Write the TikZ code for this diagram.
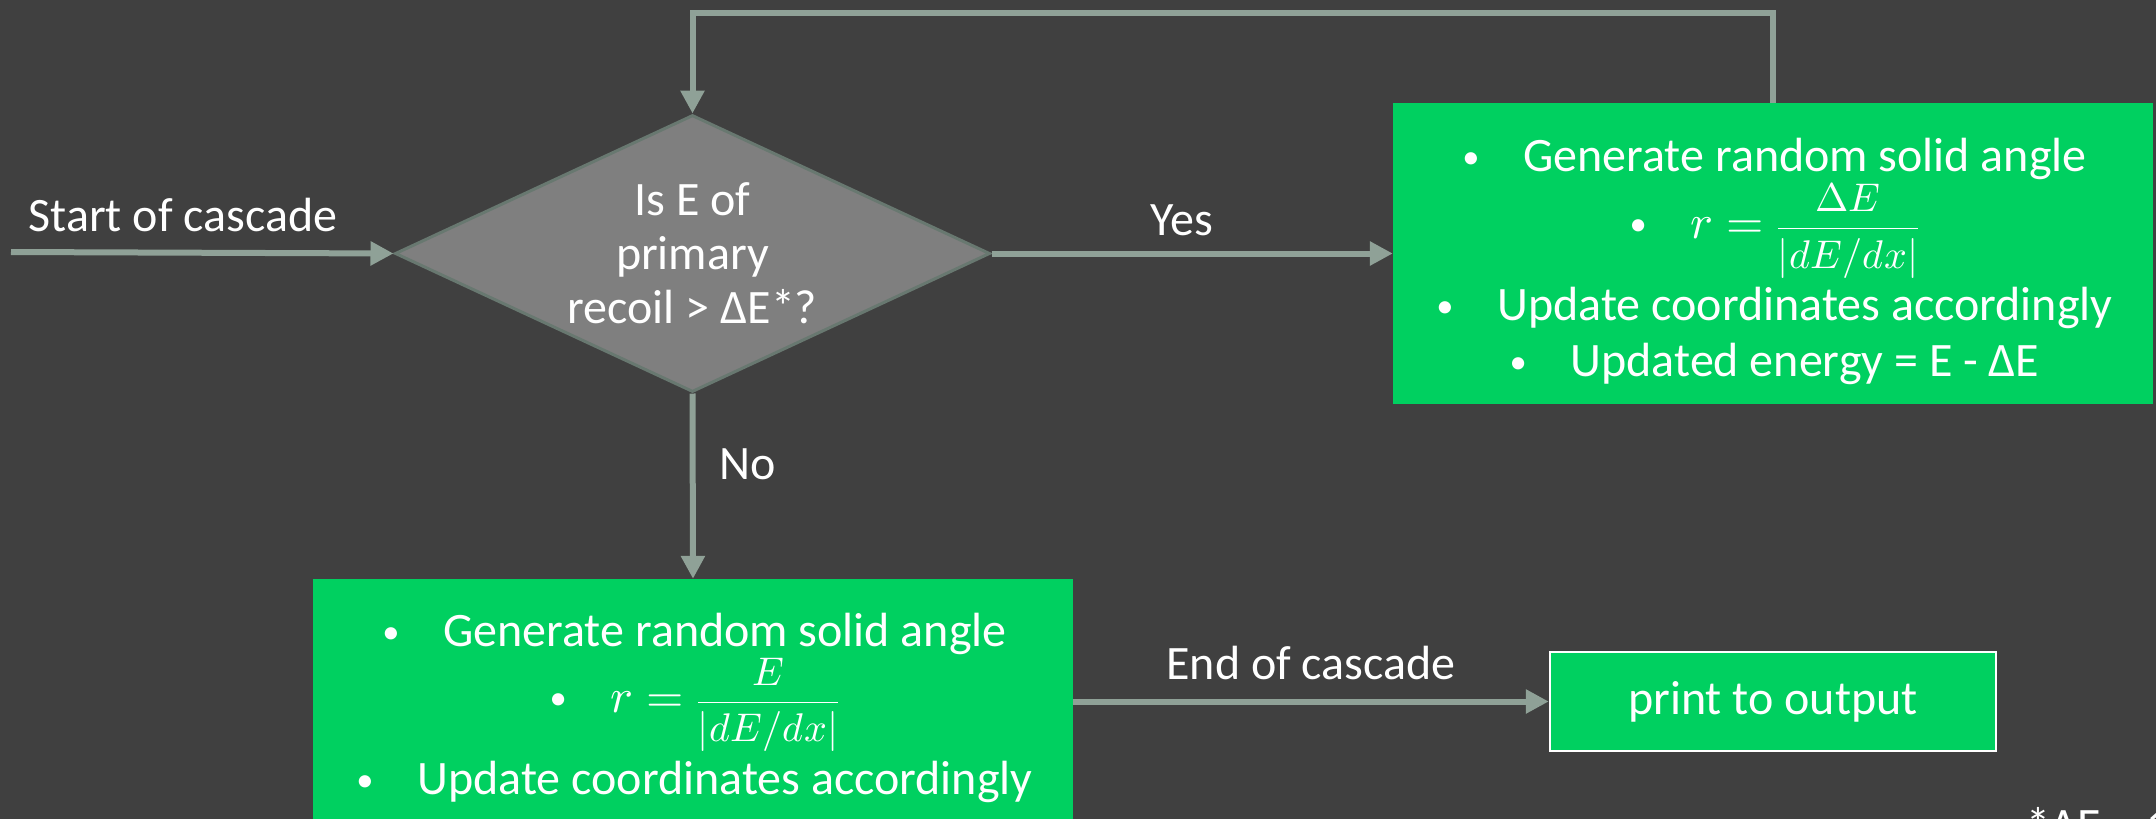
\documentclass[tikz,border=0pt]{standalone}
\usepackage{fontspec}
\usepackage{unicode-math}
\usepackage{graphicx}
\setmainfont{Carlito}
\setmathfont{Latin Modern Math}
\usetikzlibrary{shapes.geometric,arrows.meta}
\definecolor{bgcol}{RGB}{64,64,64}
\definecolor{conncol}{RGB}{143,161,151}
\definecolor{dfill}{RGB}{127,127,127}
\definecolor{dborder}{RGB}{104,120,112}
\definecolor{boxgreen}{RGB}{0,208,96}
\newcommand\mybul{\makebox[64pt][l]{\hspace{3pt}\raisebox{3pt}{\scalebox{0.72}{\textbullet}}}}
\newcommand\myfrac[2]{{\fontsize{40}{46}\selectfont$\displaystyle\frac{\rule[-5pt]{0pt}{1pt}#1}{\rule{0pt}{34pt}#2}$}}
\begin{document}
\begin{tikzpicture}[x=1pt,y=-1pt,
  every node/.style={text=white, font=\fontsize{48}{56}\selectfont},
  conn/.style={draw=conncol, line width=6pt, -{Triangle[length=23pt,width=23pt]}},
  gbox/.style={rectangle, fill=boxgreen, inner sep=0pt},
  gtext/.style={align=center, inner sep=0pt},
  lbl/.style={anchor=base, inner sep=0pt}]
\useasboundingbox (0,0) rectangle (2156,819);
\clip (0,0) rectangle (2156,819);
\fill[bgcol] (0,0) rectangle (2156,819);

% decision
\node[diamond, fill=dfill, draw=dborder, line width=3pt, inner sep=0pt,
      minimum width=595pt, minimum height=277pt] (dec) at (692.5,253.5) {};
\node[align=center, inner sep=0pt, font=\fontsize{48}{54}\selectfont] (dectext)
      at (dec.center) {Is E of\\primary\\recoil > ΔE*?};

% yes box
\node[gbox, minimum width=760pt, minimum height=301pt] (yesbox) at (1773,253.5) {};
\node[gtext] (yestext) at ([yshift=-8pt]yesbox.center)
  {\mybul Generate random solid angle\\[2pt]
   \mybul $r = \;$\myfrac{\Delta E}{|dE/dx|}\\[8pt]
   \mybul Update coordinates accordingly\\
   \mybul Updated energy = E - ΔE};

% no box
\node[gbox, minimum width=760pt, minimum height=250pt] (nobox) at (693,704) {};
\node[gtext] (notext) at ([yshift=-4pt]nobox.center)
  {\mybul Generate random solid angle\\[2pt]
   \mybul $r = \;$\myfrac{E}{|dE/dx|}\\[8pt]
   \mybul Update coordinates accordingly};

% print box
\node[rectangle, fill=boxgreen, draw=white, line width=2.5pt,
      minimum width=446pt, minimum height=99pt] (print) at (1773,701.5) {print to output};

% start point
\coordinate (start) at (11,252);

% connectors
\draw[conn] (start) -- (dec.west);
\draw[conn] (dec.east) -- (yesbox.west);
\draw[conn] (dec.south) -- (nobox.north);
\draw[conn] (nobox.east |- print.west) -- (print.west);
\draw[conn, line join=miter] (yesbox.north) -- ++(0,-90) -| (dec.north);

% labels
\node[lbl] (lstart) at (183,231) {Start of cascade};
\node[lbl] (lyes) at (1182,235) {Yes};
\node[lbl, anchor=base west] (lno) at (719,479) {No};
\node[lbl] (lend) at (1311,679) {End of cascade};
\node[lbl, anchor=base west] (foot) at (2026,841) {*ΔE = 1};
\end{tikzpicture}
\end{document}
